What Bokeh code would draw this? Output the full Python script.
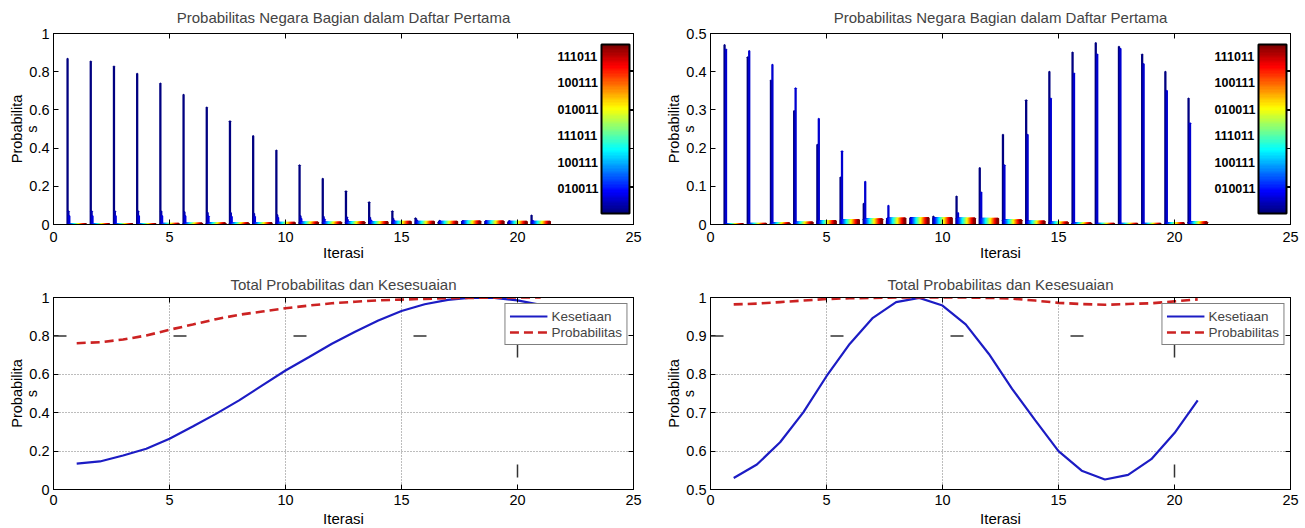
import numpy as np
from bokeh.plotting import figure
from bokeh.models import (Range1d, FixedTicker, CustomJSTickFormatter, LinearAxis, Span,
                          ColorBar, LinearColorMapper, ColumnDataSource)
from bokeh.layouts import row, column
from bokeh.embed import file_html
from bokeh.resources import INLINE

# ---------------- data ----------------
iterasi = list(range(1, 22))
n_states = 64

# top-left panel: probability of states per iteration
tl_state0 = [0.868, 0.853, 0.827, 0.789, 0.738, 0.679, 0.613, 0.541, 0.464, 0.387, 0.310,
             0.239, 0.174, 0.117, 0.070, 0.033, 0.012, 0.003, 0.001, 0.010, 0.047]
tl_state3 = [0.070, 0.070, 0.070, 0.070, 0.068, 0.065, 0.062, 0.060, 0.056, 0.050, 0.045,
             0.040, 0.038, 0.035, 0.030, 0.025, 0.020, 0.018, 0.018, 0.018, 0.020]
tl_state6 = [0.045, 0.045, 0.045, 0.045, 0.045, 0.045, 0.043, 0.040, 0.040, 0.035, 0.030,
             0.028, 0.025, 0.022, 0.020, 0.018, 0.016, 0.016, 0.016, 0.016, 0.017]
tl_rest = [0.002, 0.002, 0.003, 0.003, 0.004, 0.005, 0.006, 0.007, 0.008, 0.009, 0.010,
           0.011, 0.012, 0.013, 0.014, 0.015, 0.015, 0.016, 0.016, 0.015, 0.014]

# top-right panel
tr_state0 = [0.470, 0.438, 0.377, 0.297, 0.209, 0.123, 0.054, 0.010, 0.004, 0.021, 0.073,
             0.148, 0.235, 0.325, 0.400, 0.450, 0.475, 0.465, 0.445, 0.400, 0.330]
tr_state5 = [0.458, 0.454, 0.418, 0.357, 0.277, 0.192, 0.112, 0.049, 0.008, 0.004, 0.030,
             0.084, 0.155, 0.235, 0.330, 0.395, 0.445, 0.460, 0.420, 0.350, 0.265]
tr_rest = [0.001, 0.002, 0.003, 0.005, 0.009, 0.012, 0.014, 0.016, 0.017, 0.017, 0.016,
           0.015, 0.011, 0.008, 0.005, 0.003, 0.002, 0.002, 0.002, 0.004, 0.006]

# bottom panels
bl_kesetiaan = [0.135, 0.146, 0.177, 0.212, 0.264, 0.328, 0.394, 0.464, 0.542, 0.620, 0.689,
                0.759, 0.822, 0.880, 0.930, 0.965, 0.988, 0.999, 0.998, 0.985, 0.962]
bl_probabilitas = [0.762, 0.767, 0.781, 0.802, 0.832, 0.859, 0.887, 0.910, 0.927, 0.944, 0.958,
                   0.970, 0.978, 0.985, 0.989, 0.993, 0.996, 0.998, 0.999, 1.000, 1.000]
br_kesetiaan = [0.530, 0.565, 0.623, 0.701, 0.795, 0.879, 0.947, 0.988, 0.999, 0.979, 0.930,
                0.853, 0.762, 0.680, 0.600, 0.549, 0.526, 0.538, 0.579, 0.647, 0.732]
br_probabilitas = [0.982, 0.984, 0.988, 0.992, 0.996, 0.998, 0.999, 1.000, 1.000, 1.000, 1.000,
                   0.999, 0.997, 0.992, 0.986, 0.983, 0.981, 0.983, 0.985, 0.990, 0.995]

cbar_ticks = [10, 20, 30, 40, 50, 60]
cbar_labels = ["010011", "100111", "111011", "010011", "100111", "111011"]
cbar_marks = [10.5, 25, 39.5, 54.5]

x_ticks = [0, 5, 10, 15, 20, 25]
FONT = "Liberation Sans"


def jet(n):
    t = np.linspace(0, 1, n)
    r = np.clip(1.5 - np.abs(4 * t - 3), 0, 1)
    g = np.clip(1.5 - np.abs(4 * t - 2), 0, 1)
    b = np.clip(1.5 - np.abs(4 * t - 1), 0, 1)
    return ["#%02x%02x%02x" % (int(round(255 * a)), int(round(255 * c)), int(round(255 * d)))
            for a, c, d in zip(r, g, b)]


JET = jet(n_states)
GROUP_W = 0.8
SLOT = GROUP_W / n_states


def bar_source(rest, specials):
    xs, tops, cols = [], [], []
    for gi, it in enumerate(iterasi):
        for k in range(n_states):
            h = specials[k][gi] if k in specials else rest[gi]
            xs.append(it - GROUP_W / 2 + (k + 0.5) * SLOT)
            tops.append(h)
            cols.append(JET[k])
    return ColumnDataSource(dict(x=xs, top=tops, color=cols))


def num_fmt():
    return CustomJSTickFormatter(code="return String(Math.round(tick*100)/100);")


def blank():
    return CustomJSTickFormatter(code="return '';")


def make_fig(col, rowi, title, y0, y1, yticks):
    left_b = 53 if col == 0 else 58
    right_b = 19 if col == 0 else 15
    fh = 191 if rowi == 0 else 192
    bottom_b = 264 - 33 - fh
    p = figure(frame_width=580, frame_height=fh, min_border_left=left_b,
               min_border_right=right_b, min_border_top=33, min_border_bottom=bottom_b,
               x_range=Range1d(0, 25), y_range=Range1d(y0, y1), output_backend="svg",
               toolbar_location=None, title=title)
    p.title.text_font = FONT
    p.title.text_font_size = "15px"
    p.title.text_font_style = "normal"
    p.title.align = "center"
    if rowi == 0:
        p.title.vertical_align = "top"
        p.title.standoff = 11
    else:
        p.title.standoff = 10
    p.outline_line_color = "black"
    p.background_fill_color = "white"
    p.border_fill_color = "white"
    p.grid.visible = False

    p.xaxis.ticker = FixedTicker(ticks=x_ticks)
    p.yaxis.ticker = FixedTicker(ticks=yticks)
    p.xaxis.formatter = num_fmt()
    p.yaxis.formatter = num_fmt()
    p.xaxis.axis_label = "Iterasi"
    p.xaxis.axis_label_standoff = -1 if rowi == 0 else 2
    p.xaxis.major_label_standoff = 7 if rowi == 0 else 5
    p.yaxis.major_label_standoff = 4
    p.yaxis.axis_label = "s"
    p.yaxis.axis_label_standoff = -14

    top_ax = LinearAxis(ticker=FixedTicker(ticks=x_ticks), formatter=blank())
    right_ax = LinearAxis(ticker=FixedTicker(ticks=yticks), formatter=blank())
    p.add_layout(top_ax, "above")
    p.add_layout(right_ax, "right")
    label_ax = LinearAxis(ticker=FixedTicker(ticks=[]), formatter=blank(),
                          axis_label="Probabilita", axis_label_standoff=-3)
    p.add_layout(label_ax, "left")

    hidden = (top_ax, right_ax, label_ax)
    for ax in p.axis:
        ax.major_tick_in = 5
        ax.major_tick_out = 0
        ax.minor_tick_in = 0
        ax.minor_tick_out = 0
        ax.axis_line_color = "black"
        ax.major_tick_line_color = "black"
        ax.major_label_text_font = FONT
        ax.major_label_text_color = "black"
        ax.axis_label_text_font = FONT
        ax.axis_label_text_font_style = "normal"
        ax.axis_label_text_color = "black"
        if any(ax is h for h in hidden):
            ax.major_label_text_font_size = "0px"
            ax.major_label_standoff = 0
        else:
            ax.major_label_text_font_size = "14.5px"
    p.xaxis.axis_label_text_font_size = "15px"
    p.yaxis.axis_label_text_font_size = "14.5px"
    label_ax.axis_line_color = None
    label_ax.major_tick_line_color = None
    label_ax.major_tick_in = 0
    return p


def add_colorbar(p):
    mapper = LinearColorMapper(palette=JET, low=0.5, high=64.5)
    cb = ColorBar(color_mapper=mapper, orientation="vertical", width=28, height=169,
                  location=(548, 11), padding=0, margin=0,
                  ticker=FixedTicker(ticks=cbar_ticks),
                  major_label_overrides={t: l for t, l in zip(cbar_ticks, cbar_labels)},
                  label_standoff=-72, major_tick_in=0, major_tick_out=0,
                  minor_tick_in=0, minor_tick_out=0,
                  major_label_text_font=FONT, major_label_text_font_style="bold",
                  major_label_text_font_size="12.5px", major_label_text_color="black",
                  bar_line_color="black", bar_line_width=2,
                  border_line_color=None, background_fill_alpha=0)
    p.add_layout(cb)
    cb2 = ColorBar(color_mapper=mapper, orientation="vertical", width=28, height=169,
                   location=(548, 11), padding=0, margin=0, scale_alpha=0,
                   ticker=FixedTicker(ticks=cbar_marks),
                   major_label_text_alpha=0, major_label_text_font_size="1px",
                   major_tick_in=0, major_tick_out=4, major_tick_line_color="black",
                   minor_tick_in=0, minor_tick_out=0,
                   bar_line_color=None, border_line_color=None, background_fill_alpha=0)
    p.add_layout(cb2)


# ---------------- top-left ----------------
t1 = make_fig(0, 0, "Probabilitas Negara Bagian dalam Daftar Pertama", 0, 1,
              [0, 0.2, 0.4, 0.6, 0.8, 1])
src1 = bar_source(tl_rest, {0: tl_state0, 3: tl_state3, 6: tl_state6})
t1.vbar(x="x", top="top", bottom=0, width=SLOT, fill_color="color", line_color="color",
        line_width=2, source=src1)
add_colorbar(t1)

# ---------------- top-right ----------------
t2 = make_fig(1, 0, "Probabilitas Negara Bagian dalam Daftar Pertama", 0, 0.5,
              [0, 0.1, 0.2, 0.3, 0.4, 0.5])
src2 = bar_source(tr_rest, {0: tr_state0, 5: tr_state5})
t2.vbar(x="x", top="top", bottom=0, width=SLOT, fill_color="color", line_color="color",
        line_width=2, source=src2)
add_colorbar(t2)


# ---------------- bottom ----------------
def bottom(col, kes, prob, y0, yticks, grid_y, odd_y):
    p = make_fig(col, 1, "Total Probabilitas dan Kesesuaian", y0, 1, yticks)
    p.xgrid.visible = True
    p.ygrid.visible = True
    p.xgrid.ticker = FixedTicker(ticks=[5, 10, 15])
    p.ygrid.ticker = FixedTicker(ticks=grid_y)
    for g in (p.xgrid, p.ygrid):
        g.grid_line_color = "#7a7a7a"
        g.grid_line_dash = "1 2"
        g.grid_line_width = 1
    p.add_layout(Span(location=odd_y, dimension="width", line_color="#333333",
                      line_width=1.5, line_dash="13 107"))
    p.add_layout(Span(location=20, dimension="height", line_color="#333333",
                      line_width=1.5, line_dash="13 107", line_dash_offset=73))
    p.line(iterasi, kes, line_color="#1c1cc4", line_width=2.2, legend_label="Kesetiaan")
    p.line(iterasi, prob, line_color="#cc2222", line_width=2.6, line_dash="9 5",
           legend_label="Probabilitas")
    lg = p.legend[0]
    lg.location = "top_right"
    lg.margin = 6
    lg.padding = 4
    lg.spacing = 0
    lg.glyph_width = 38
    lg.glyph_height = 16
    lg.label_height = 16
    lg.label_standoff = 4
    lg.label_text_font = FONT
    lg.label_text_font_size = "13.5px"
    lg.border_line_color = "black"
    lg.border_line_width = 1
    lg.background_fill_alpha = 1
    return p


b1 = bottom(0, bl_kesetiaan, bl_probabilitas, 0, [0, 0.2, 0.4, 0.6, 0.8, 1], [0.2, 0.4, 0.6], 0.8)
b2 = bottom(1, br_kesetiaan, br_probabilitas, 0.5, [0.5, 0.6, 0.7, 0.8, 0.9, 1],
            [0.6, 0.7, 0.8], 0.9)

layout = column(row(t1, t2), row(b1, b2))
open("out.html", "w").write(file_html(layout, INLINE))
